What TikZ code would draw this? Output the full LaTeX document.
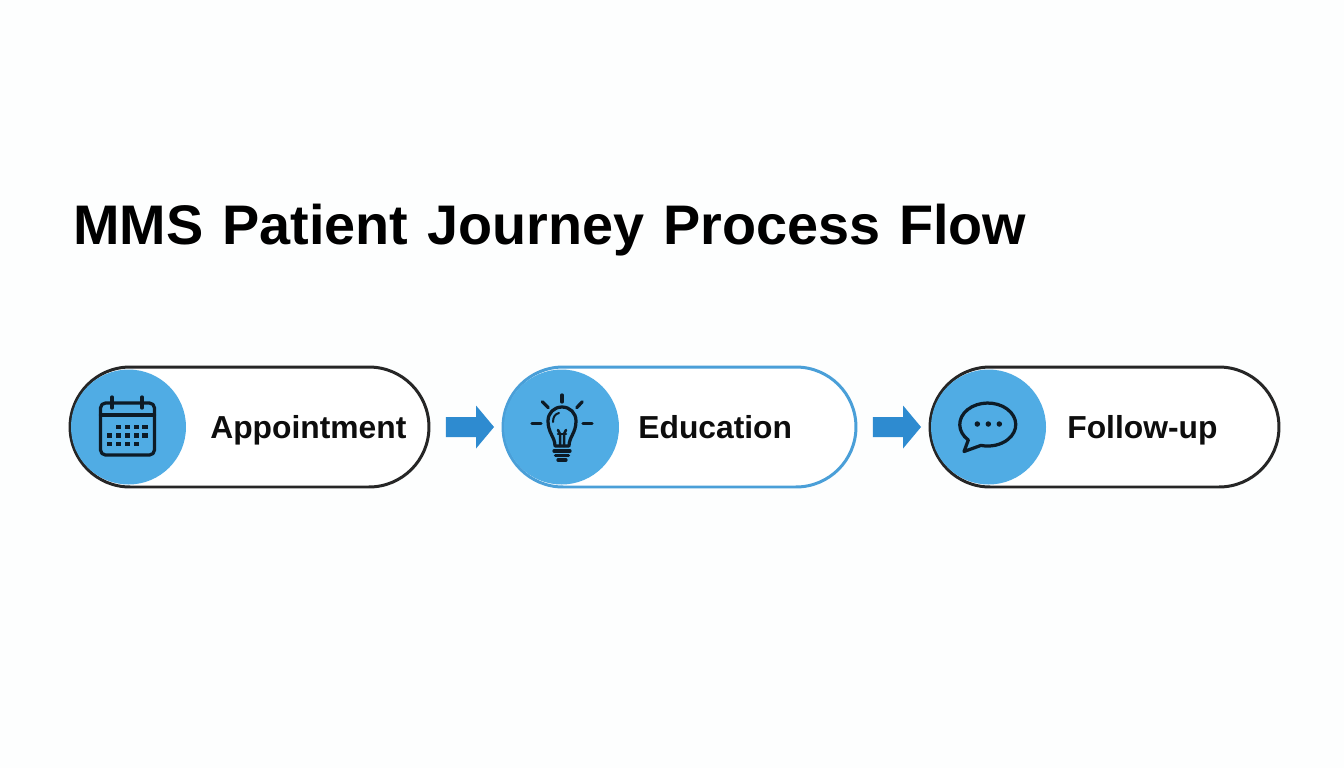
\documentclass[tikz,border=0pt]{standalone}
\usepackage{fontspec}
\setmainfont[WordSpace=1.22]{Liberation Sans}
\usetikzlibrary{arrows.meta,shapes.misc}
\begin{document}
\begin{tikzpicture}[x=0.02cm,y=-0.02cm,line cap=round,line join=round]
  % Colors
  \definecolor{pagecolor}{HTML}{FDFEFE}
  \definecolor{disccolor}{HTML}{50ACE4}
  \definecolor{edgecolor}{HTML}{4A9FD8}
  \definecolor{flowcolor}{HTML}{2E8BD0}
  \definecolor{inkcolor}{HTML}{0D1B26}
  \colorlet{darkline}{black!85}

  % Styles
  \tikzstyle{pill}=[rounded rectangle,draw=darkline,line width=0.06cm,fill=white,
    minimum height=2.40cm,outer sep=0pt,inner sep=0pt]
  \tikzstyle{disc}=[circle,fill=disccolor,minimum size=2.30cm,inner sep=0pt]
  \tikzstyle{step text}=[anchor=base west,inner sep=0pt,font=\bfseries\fontsize{18.1}{20}\selectfont,text=black!95]
  \tikzstyle{flow}=[draw=flowcolor,line width=0.4cm,line cap=butt,yshift=-0.02cm,
    -{Triangle[length=0.36cm,width=0.84cm]},shorten <=0.34cm,shorten >=0.18cm]
  \tikzstyle{icon}=[draw=inkcolor,line width=0.065cm]

  % The page
  \fill[pagecolor] (0,0) rectangle (1344,768);
  \node[anchor=base west,inner sep=0pt,font=\bfseries\fontsize{31.75}{36}\selectfont] (title)
    at (73,244.5) {MMS Patient Journey Process Flow};

  % The pills
  \node[pill,minimum width=7.18cm] (appointment) at (249.5,427) {};
  \node[pill,minimum width=7.06cm,draw=edgecolor] (education) at (679.5,427) {};
  \node[pill,minimum width=6.98cm] (followup) at (1104.5,427) {};

  \node[disc] (appointment disc) at (128.5,427) {};
  \node[disc] (education disc) at (561.5,427) {};
  \node[disc] (followup disc) at (988.5,427) {};

  \node[step text] (appointment text) at (210,438) {Appointment};
  \node[step text] (education text) at (638,438) {Education};
  \node[step text] (followup text) at (1067,438) {Follow-up};

  % The arrows
  \draw[flow] (appointment) -- (education);
  \draw[flow] (education) -- (followup);

  % Calendar
  \draw[icon,rounded corners=0.1cm] (100.5,403) rectangle (154.5,455);
  \draw[icon] (100.5,415) -- (154.5,415);
  \foreach \x in {112,142}
    \draw[icon] (\x,397) -- (\x,408);
  \foreach \x/\y in {118.3/427,127.3/427,136.3/427,145/427,
                     109.3/435.7,118.3/435.7,127.3/435.7,136.3/435.7,145/435.7,
                     109.3/444,118.3/444,127.3/444,136.3/444}
    \fill[inkcolor] (\x-2.7,\y-2.4) rectangle (\x+2.7,\y+2.4);

  % Bulb
  \draw[icon] (555,446) .. controls (555,437) and (548,433) .. (548,421)
    .. controls (548,413) and (554,407) .. (562,407)
    .. controls (570,407) and (576,413) .. (576,421)
    .. controls (576,433) and (569,437) .. (569,446) -- cycle;
  \draw[icon,line width=0.04cm] (553,422) .. controls (553,417) and (555,414) .. (559,413);
  \draw[icon,line width=0.05cm] (558,430) -- (560,434) -- (560,446);
  \draw[icon,line width=0.05cm] (566,430) -- (564,434) -- (564,446);
  \draw[icon,line width=0.05cm] (558,434) -- (566,434);
  \foreach \xa/\ya/\xb/\yb in {562/395/562/402, 542.3/401.7/548.3/407.7, 582.3/401.7/576.7/407.7,
                               532/423.3/541/423.3, 583/423.3/592/423.3,
                               554/451/570/451, 555.5/455.5/568.5/455.5, 558/460/566/460}
    \draw[icon] (\xa,\ya) -- (\xb,\yb);

  % Bubble
  \draw[icon] (968.3,440) arc[start angle=134,end angle=464,x radius=28,y radius=21.5]
    -- (964,451.5) -- cycle;
  \foreach \x in {977.3,988.3,999.3}
    \fill[inkcolor] (\x,424) circle (0.055cm);
\end{tikzpicture}
\end{document}
